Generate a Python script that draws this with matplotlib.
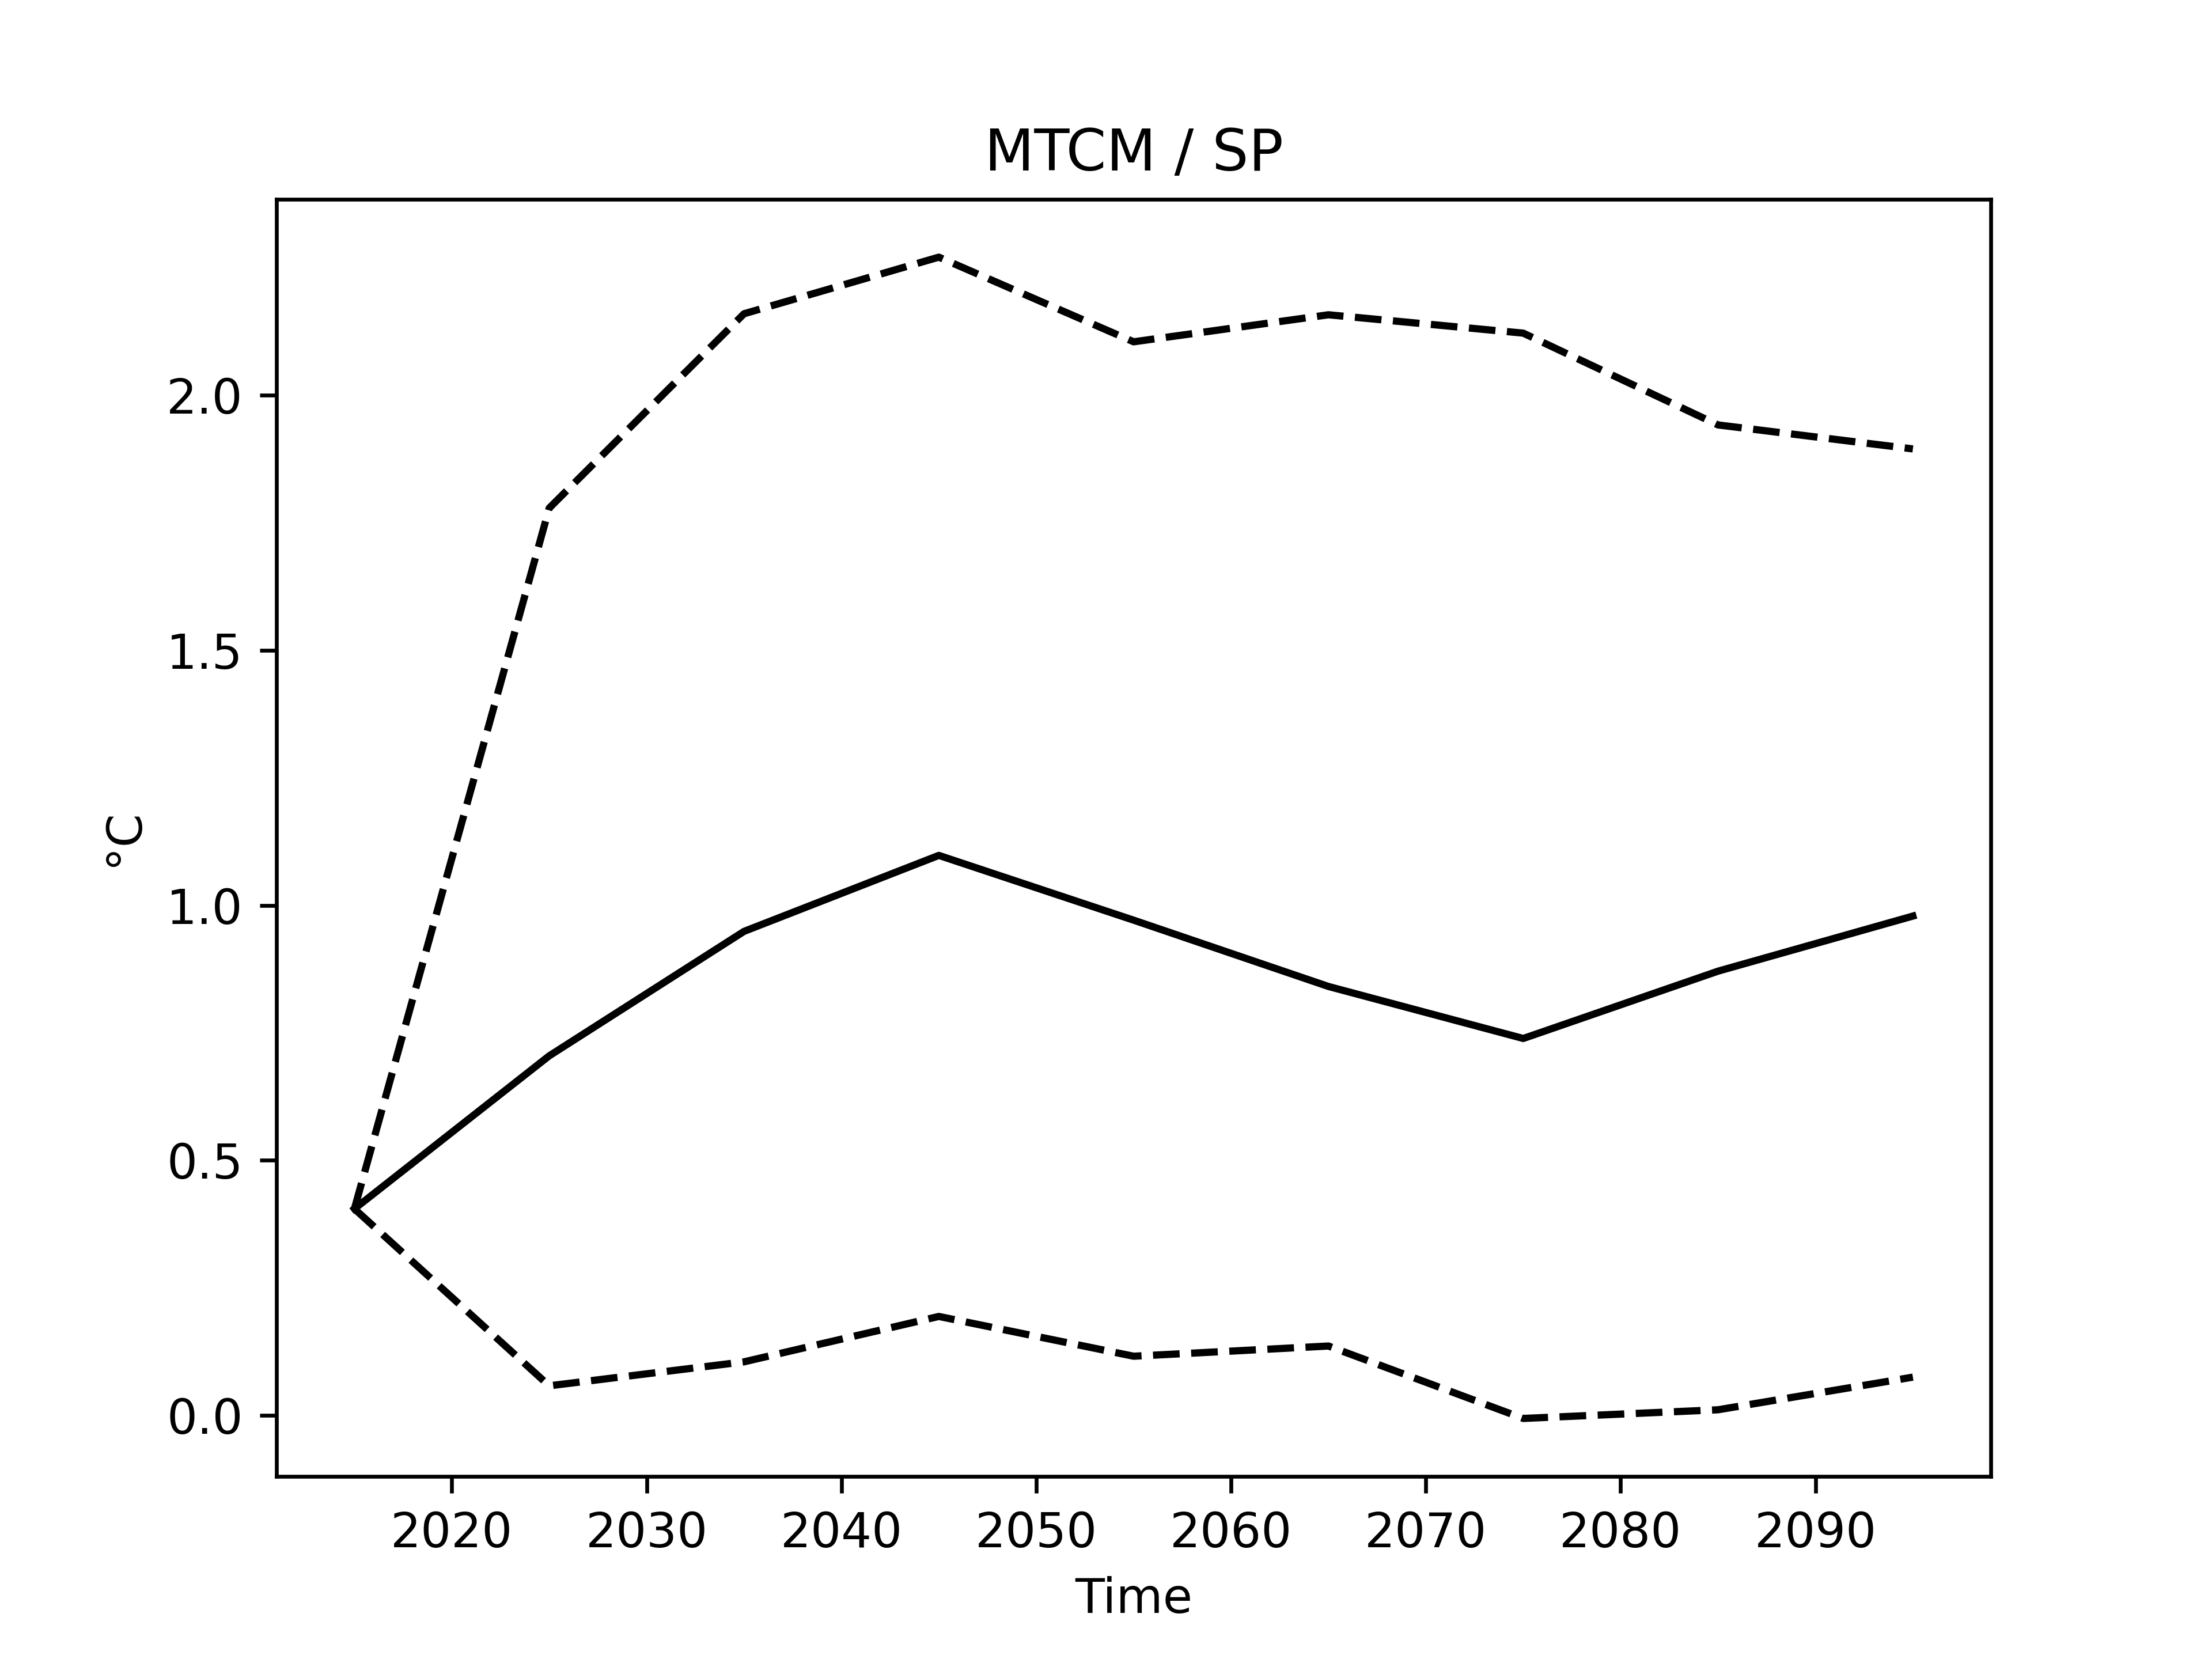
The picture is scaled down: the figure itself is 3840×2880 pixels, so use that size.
import matplotlib
matplotlib.use('Agg')
import matplotlib.pyplot as plt

# 数据：年份与温度（°C）
years = [2015, 2025, 2035, 2045, 2055, 2065, 2075, 2085, 2095]
mean_vals = [0.405, 0.705, 0.949, 1.098, 0.971, 0.841, 0.739, 0.871, 0.979]
upper_vals = [0.405, 1.779, 2.160, 2.271, 2.105, 2.158, 2.122, 1.942, 1.895]
lower_vals = [0.405, 0.058, 0.105, 0.194, 0.116, 0.136, -0.006, 0.011, 0.075]

fig, ax = plt.subplots(figsize=(6.4, 4.8))
ax.plot(years, mean_vals, 'k-')
ax.plot(years, upper_vals, 'k--')
ax.plot(years, lower_vals, 'k--')

ax.set_title('MTCM / SP')
ax.set_xlabel('Time')
ax.set_ylabel('°C')

plt.savefig('out.png', dpi=600)
plt.close()
